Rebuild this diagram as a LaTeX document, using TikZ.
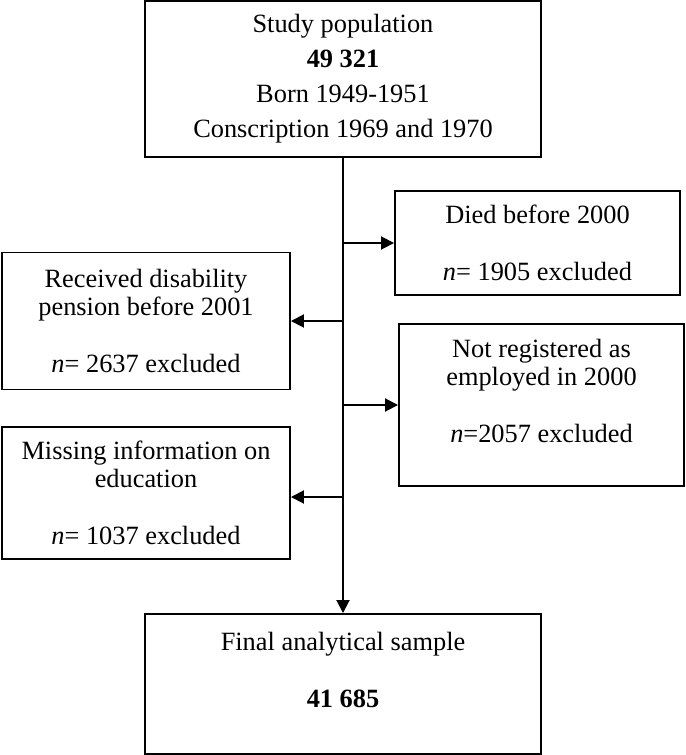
\documentclass[tikz,border=0pt]{standalone}
\usepackage{fontspec}
\setmainfont{Liberation Serif}
\usetikzlibrary{arrows.meta, calc}
\tikzset{
  box/.style   ={rectangle, draw=black, line width=1.1pt, fill=white, inner sep=0pt,
                 align=center, font=\fontsize{15}{16.2}\selectfont},
  topbox/.style={box, font=\fontsize{15}{19.9}\selectfont},
  arr/.style   ={-{Triangle[length=0.26cm, width=0.26cm]}, line width=1.1pt, color=black},
}

\begin{document}
\begin{tikzpicture}[x=1cm, y=1cm]
\useasboundingbox (0,0) rectangle (13.70,-15.10);

\node[topbox, minimum width=7.92cm, minimum height=3.12cm] (study) at (6.86,-1.58)
  {Study population\\\textbf{49 321}\\Born 1949-1951\\Conscription 1969 and 1970};

\node[box, minimum width=5.70cm, minimum height=2.08cm] (died) at (10.75,-4.86)
  {Died before 2000\\[16.2pt]\textit{n}= 1905 excluded};
\node[box, minimum width=5.76cm, minimum height=2.74cm] (pension) at (2.92,-6.42)
  {Received disability\\pension before 2001\\[16.2pt]\textit{n}= 2637 excluded};
\node[box, minimum width=5.70cm, minimum height=3.24cm] (employ) at (10.83,-8.10)
  {Not registered as\\employed in 2000\\[16.2pt]\textit{n}=2057 excluded\\\mbox{}};
\node[box, minimum width=5.76cm, minimum height=2.64cm] (educ) at (2.92,-9.86)
  {Missing information on\\education\\[16.2pt]\textit{n}= 1037 excluded};

\node[box, minimum width=7.92cm, minimum height=2.80cm] (final) at (6.86,-13.68)
  {Final analytical sample\\[16.2pt]\textbf{41 685}\\\mbox{}};

\draw[arr] (study.south) -- (final.north);
\draw[arr] (study.south |- died.west) -- (died.west);
\draw[arr] (study.south |- pension.east) -- (pension.east);
\draw[arr] (study.south |- employ.west) -- (employ.west);
\draw[arr] ($(study.south |- educ.east)+(0,-0.08)$) -- ($(educ.east)+(0,-0.08)$);
\end{tikzpicture}
\end{document}
